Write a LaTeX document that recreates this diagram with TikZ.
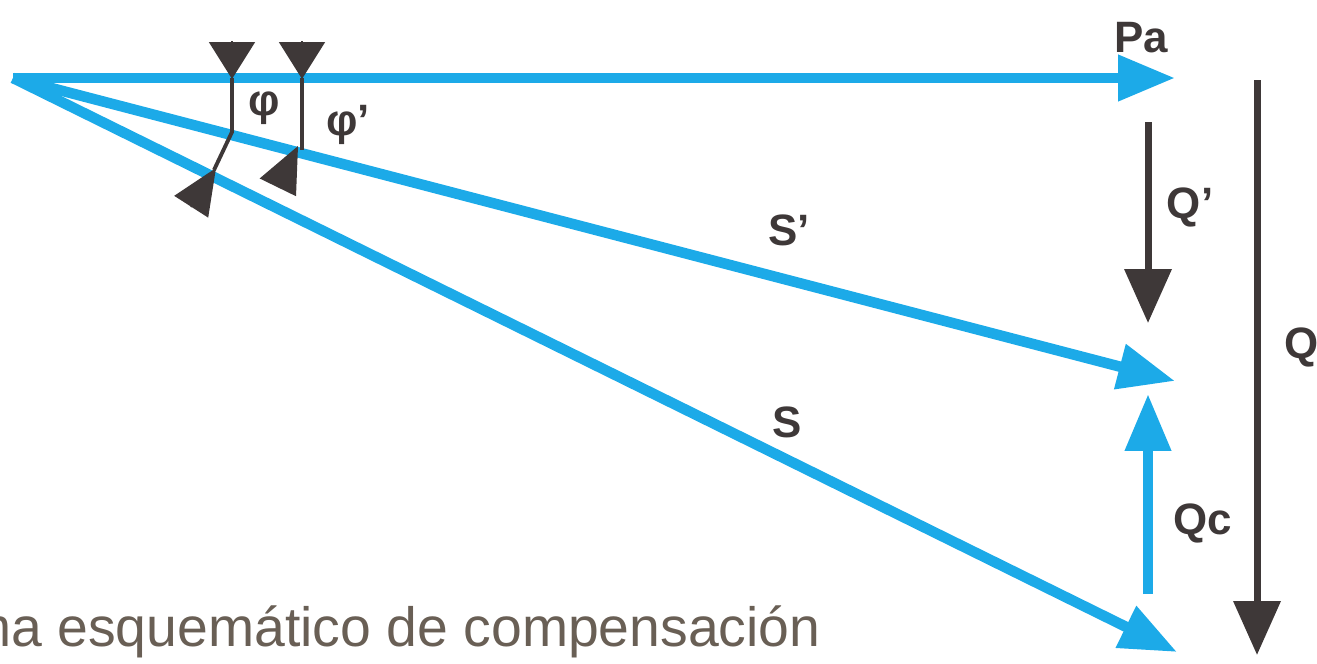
\documentclass[tikz,border=0pt]{standalone}
\usepackage{fontspec}
\setmainfont{Liberation Sans}
\usetikzlibrary{arrows.meta}
\definecolor{pblue}{RGB}{28,170,232}
\definecolor{qdark}{RGB}{62,56,56}
\definecolor{captxt}{RGB}{105,95,85}
\begin{document}
\begin{tikzpicture}
  [x=0.02cm,y=-0.02cm,
  every node/.style={font=\fontsize{25}{25}\selectfont\bfseries,text=qdark,inner sep=0},
  pvec/.style={draw=pblue,line width=6pt,-{Triangle[length=1.14cm,width=0.88cm]}},
  qvec/.style={draw=qdark,line width=4pt,-{Triangle[length=1.08cm,width=0.92cm]}},
  angl/.style={draw=qdark,line width=2.2pt},
  atip/.style={draw=qdark,line width=1pt,-{Triangle[length=0.74cm,width=0.92cm]}},
  btip/.style={draw=qdark,line width=1pt,-{Triangle[length=0.92cm,width=0.8cm]}}]
  \useasboundingbox (0,0) rectangle (1317,663);
  \def\xq{1148}
  \coordinate (O) at (13,78);
  \coordinate (Pa) at (1175,78);
  \coordinate (S1) at (1175,381);
  \coordinate (S) at (1177,652);
  \coordinate (Qc0) at (\xq,594);
  \coordinate (Qc1) at (\xq,394);
  \coordinate (Q10) at (\xq,122);
  \coordinate (Q11) at (\xq,323);
  \coordinate (Q0) at (1257,80);
  \coordinate (Q1) at (1257,655);

  \draw[pvec] (O) -- (Pa);
  \draw[pvec] (O) -- (S1);
  \draw[pvec] (O) -- (S);
  \draw[pvec] (Qc0) -- (Qc1);
  \draw[qvec] (Q10) -- (Q11);
  \draw[qvec] (Q0) -- (Q1);

  \draw[atip] (232,41) -- (232,79);
  \draw[angl] (232,78) -- (232,132) -- (214,170);
  \draw[btip] (191,207) -- (216,168);
  \draw[atip] (302,41) -- (302,79);
  \draw[angl] (302,78) -- (302,150);
  \draw[btip] (278,187) -- (298,146);

  \node (pa) at (1141,38) {Pa};
  \node (q1) at (1190,207) {Q'};
  \node (q) at (1302,347) {Q};
  \node (qc) at (1203,523) {Qc};
  \node (s1) at (789,230) {S'};
  \node (s) at (787,422) {S};
  \node (phi) at (264,108) {φ};
  \node (phi1) at (348,125) {φ'};
  \node[anchor=base west,font=\fontsize{31.5}{31.5}\selectfont,text=captxt] (cap) at (-35,646) {ma esquemático de compensación};
\end{tikzpicture}
\end{document}
